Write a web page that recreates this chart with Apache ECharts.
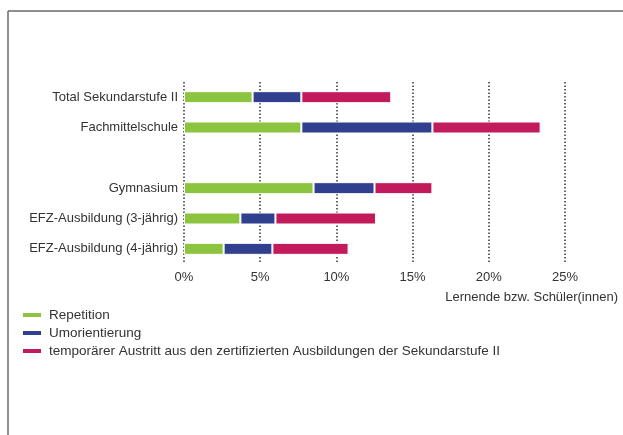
<!DOCTYPE html>
<html style="height:100%">
<head>
    <meta charset="UTF-8">
    <title>Repetition und Umorientierung</title>
    <script src="https://cdn.jsdelivr.net/npm/echarts@6/dist/echarts.min.js"></script>
</head>
<body style="height:100%;margin:0">
    <div id="main" style="width:623px;height:435px;"></div>
    <script>
        // Kategorien von oben nach unten (leere Zeile als Abstand)
        var categories = ['Total Sekundarstufe II', 'Fachmittelschule', '', 'Gymnasium',
            'EFZ-Ausbildung (3-jährig)', 'EFZ-Ausbildung (4-jährig)'];
        var repetition = [4.5, 7.7, '-', 8.5, 3.7, 2.6];
        var umorientierung = [3.2, 8.6, '-', 4.0, 2.3, 3.2];
        var austritt = [5.9, 7.1, '-', 3.8, 6.6, 5.0];
        var seriesNames = ['Repetition', 'Umorientierung',
            'temporärer Austritt aus den zertifizierten Ausbildungen der Sekundarstufe II'];
        var colors = ['#8cc43f', '#303f8e', '#c21b5c'];
        var font = 'Liberation Sans';

        var chart = echarts.init(document.getElementById('main'), null, { renderer: 'canvas' });

        function makeSeries(name, data) {
            return {
                name: name,
                type: 'bar',
                stack: 'total',
                barWidth: 12,
                data: data,
                itemStyle: { borderColor: '#fff', borderWidth: 1 }
            };
        }

        var option = {
            backgroundColor: '#fff',
            animation: false,
            color: colors,
            textStyle: { fontFamily: font },
            grid: { left: 184, right: 58, top: 82, bottom: 171 },
            xAxis: {
                type: 'value',
                min: 0,
                max: 25,
                interval: 5,
                axisLine: { show: false },
                axisTick: { show: false },
                axisLabel: {
                    formatter: '{value}%',
                    color: '#333',
                    fontSize: 13,
                    margin: 7
                },
                splitLine: {
                    show: true,
                    lineStyle: { color: '#333', width: 1.5, type: [1.5, 2] }
                },
                name: 'Lernende bzw. Schüler(innen)',
                nameLocation: 'end',
                nameGap: 53,
                nameTextStyle: {
                    color: '#333',
                    fontSize: 13,
                    align: 'right',
                    verticalAlign: 'top',
                    padding: [27, 0, 0, 0]
                }
            },
            yAxis: {
                type: 'category',
                inverse: true,
                data: categories,
                axisLine: { show: false },
                axisTick: { show: false },
                axisLabel: { color: '#333', fontSize: 13, margin: 6 }
            },
            legend: {
                orient: 'vertical',
                left: 16,
                top: 303,
                icon: 'rect',
                itemWidth: 20,
                itemHeight: 6,
                itemGap: 4,
                textStyle: { color: '#333', fontSize: 13.5, padding: [0, 0, 0, 2] },
                data: seriesNames
            },
            graphic: [
                { type: 'line', shape: { x1: 8, y1: 11, x2: 623, y2: 11 },
                  style: { stroke: '#6a6a6a', lineWidth: 1.5 } },
                { type: 'line', shape: { x1: 8, y1: 11, x2: 8, y2: 435 },
                  style: { stroke: '#6a6a6a', lineWidth: 1.5 } }
            ],
            series: [
                makeSeries(seriesNames[0], repetition),
                makeSeries(seriesNames[1], umorientierung),
                makeSeries(seriesNames[2], austritt)
            ]
        };
        chart.setOption(option);
    </script>
</body>
</html>
